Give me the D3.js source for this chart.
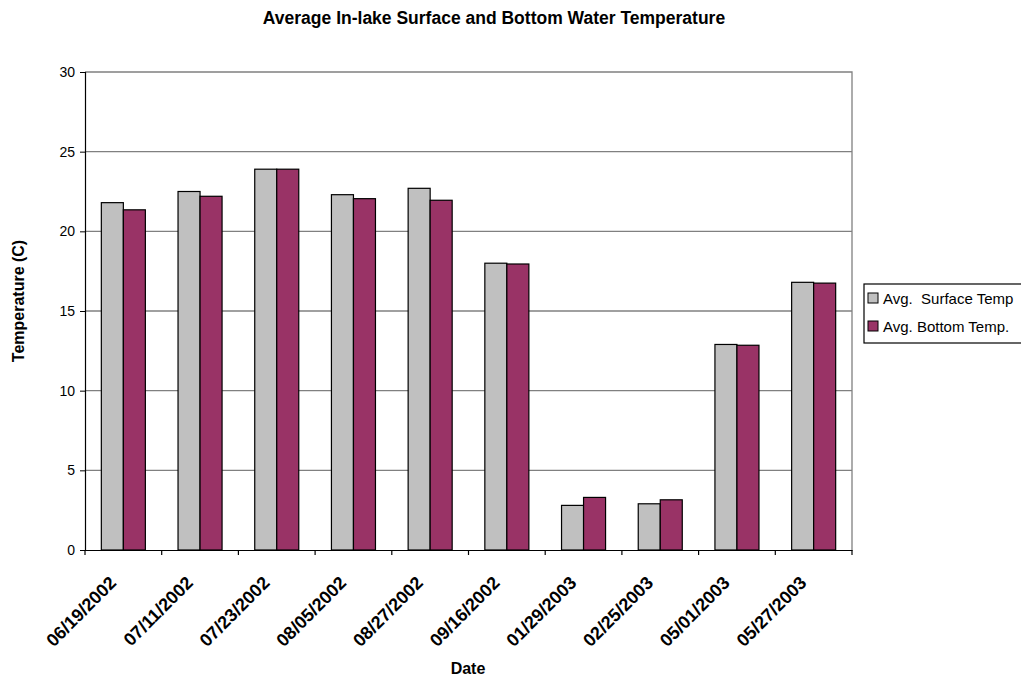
<!DOCTYPE html>
<html>
<head>
<meta charset="utf-8">
<script src="https://cdn.jsdelivr.net/npm/d3@7"></script>
<style>
  html, body { margin: 0; padding: 0; background: #fff; }
  svg { display: block; font-family: "Liberation Sans", Arial, sans-serif; }
</style>
</head>
<body>
<svg id="chart" width="1021" height="679"></svg>
<script>
const dates = ["06/19/2002","07/11/2002","07/23/2002","08/05/2002","08/27/2002","09/16/2002","01/29/2003","02/25/2003","05/01/2003","05/27/2003"];
const surfaceTemp = [21.8, 22.5, 23.9, 22.3, 22.7, 18.0, 2.8, 2.9, 12.9, 16.8];
const bottomTemp = [21.35, 22.2, 23.9, 22.05, 21.95, 17.95, 3.3, 3.15, 12.85, 16.75];
const seriesNames = ["Avg.  Surface Temp", "Avg. Bottom Temp."];
const seriesColors = ["#C0C0C0", "#993366"];
const yTicks = [0, 5, 10, 15, 20, 25, 30];

(function () {
const svg = d3.select("#chart");
const pL = 85, pR = 852, pT = 72, pB = 550;

const x = d3.scaleBand().domain(dates).range([pL, pR]).paddingInner(0.426).paddingOuter(0.213);
const xs = d3.scaleBand().domain([0, 1]).range([0, x.bandwidth()]);
const y = d3.scaleLinear().domain([0, 30]).range([pB, pT]);

// gridlines
svg.append("g").selectAll("line").data(yTicks.filter(t => t > 0 && t < 30)).join("line")
  .attr("x1", pL).attr("x2", pR)
  .attr("y1", d => y(d)).attr("y2", d => y(d))
  .attr("stroke", "#808080").attr("stroke-width", 1.3);

// plot border (top and right)
svg.append("path")
  .attr("d", `M${pL},${pT}H${pR}V${pB}`)
  .attr("fill", "none").attr("stroke", "#808080").attr("stroke-width", 1.3);

// bars
const series = [surfaceTemp, bottomTemp];
const g = svg.append("g");
series.forEach((vals, si) => {
  g.append("g").selectAll("rect").data(vals).join("rect")
    .attr("x", (d, i) => x(dates[i]) + xs(si))
    .attr("y", d => y(d))
    .attr("width", xs.bandwidth())
    .attr("height", d => y(0) - y(d))
    .attr("fill", seriesColors[si])
    .attr("stroke", "#000").attr("stroke-width", 1.2);
});

// y axis
const yAxis = d3.axisLeft(y).tickValues(yTicks).tickSize(5).tickPadding(5);
const yg = svg.append("g").attr("transform", `translate(${pL},0)`).call(yAxis);
yg.select(".domain").attr("stroke", "#000").attr("stroke-width", 1.2);
yg.selectAll(".tick line").attr("stroke", "#000");
yg.selectAll(".tick text").attr("font-size", 14).attr("fill", "#000")
  .attr("font-family", "Liberation Sans, Arial, sans-serif");

// x axis
const xAxis = d3.axisBottom(x).tickSize(0).tickFormat("");
const xg = svg.append("g").attr("transform", `translate(0,${pB})`).call(xAxis);
xg.select(".domain").attr("stroke", "#000").attr("stroke-width", 1.2);
const step = x.step();
const boundaries = d3.range(dates.length + 1).map(i => pL + i * step);
xg.append("g").selectAll("line").data(boundaries).join("line")
  .attr("x1", d => d).attr("x2", d => d).attr("y1", 0).attr("y2", 5)
  .attr("stroke", "#000").attr("stroke-width", 1.2);
xg.append("g").selectAll("text").data(dates).join("text")
  .attr("transform", d => `translate(${x(d) + x.bandwidth() / 2 - 6},${34}) rotate(-45)`)
  .attr("text-anchor", "end")
  .attr("font-size", 18).attr("font-weight", "bold").attr("fill", "#000")
  .text(d => d);

// title
svg.append("text").attr("x", 494).attr("y", 24).attr("text-anchor", "middle")
  .attr("font-size", 17.5).attr("font-weight", "bold").text("Average In-lake Surface and Bottom Water Temperature");

// axis titles
svg.append("text").attr("x", 468).attr("y", 674).attr("text-anchor", "middle")
  .attr("font-size", 16).attr("font-weight", "bold").text("Date");
svg.append("text").attr("transform", "translate(24,301) rotate(-90)").attr("text-anchor", "middle")
  .attr("font-size", 16).attr("font-weight", "bold").text("Temperature (C)");

// legend
const lg = svg.append("g");
lg.append("rect").attr("x", 864).attr("y", 284).attr("width", 170).attr("height", 59)
  .attr("fill", "#fff").attr("stroke", "#000").attr("stroke-width", 1.2);
seriesNames.forEach((name, i) => {
  const cy = 298 + i * 28;
  lg.append("rect").attr("x", 868).attr("y", cy - 5).attr("width", 10).attr("height", 10)
    .attr("fill", seriesColors[i]).attr("stroke", "#000").attr("stroke-width", 1);
  lg.append("text").attr("x", 883).attr("y", cy + 5.5).attr("font-size", 15).attr("fill", "#000")
    .attr("xml:space", "preserve").style("white-space", "pre").text(name);
});
})();
</script>
</body>
</html>
